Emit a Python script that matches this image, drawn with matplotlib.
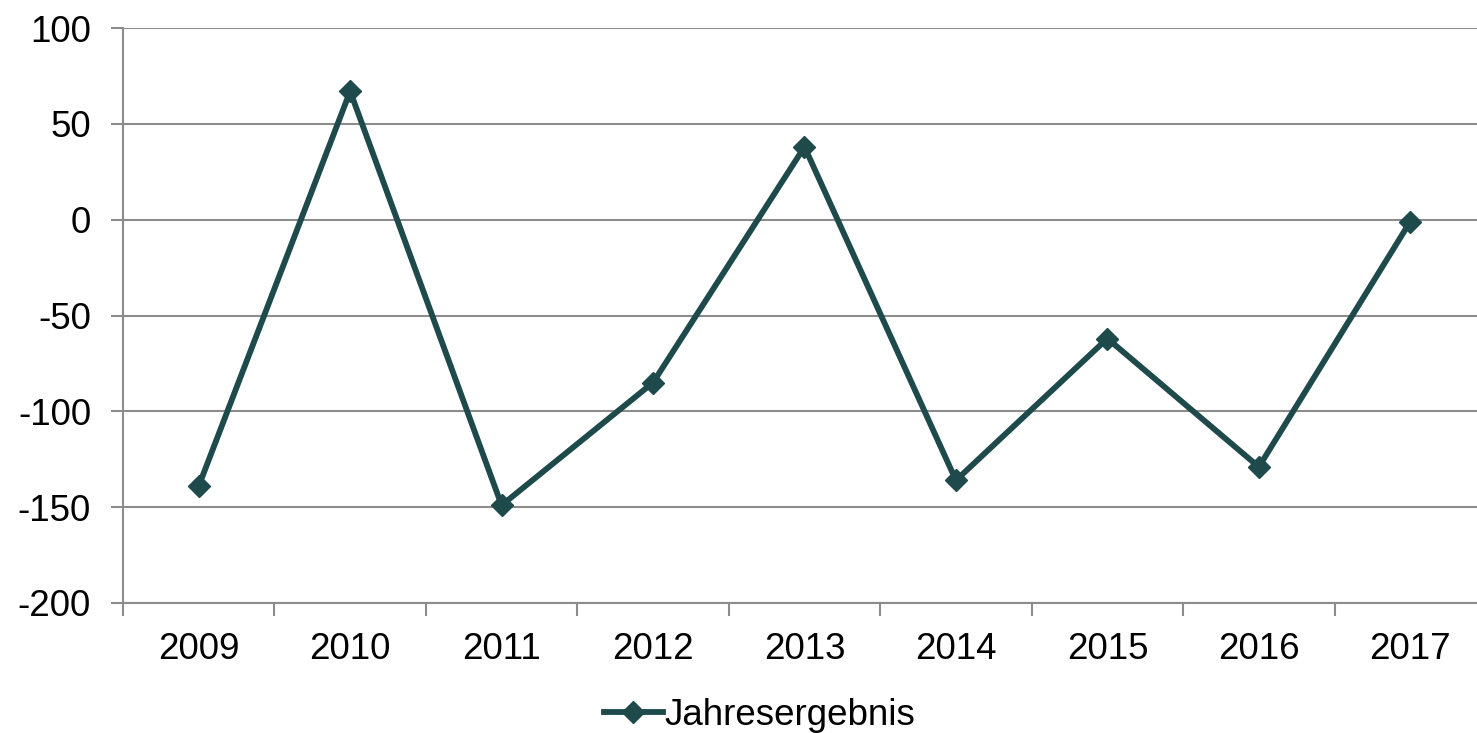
import numpy as np
import matplotlib
matplotlib.use("Agg")
import matplotlib.pyplot as plt

years = ["2009", "2010", "2011", "2012", "2013", "2014", "2015", "2016", "2017"]
jahresergebnis = [-139, 67, -149, -85, 38, -136, -62, -129, -1]
yticks = [-200, -150, -100, -50, 0, 50, 100]

line_color = "#1f4a4b"
grid_color = "#8c8c8c"

plt.rcParams['font.family'] = ['Liberation Sans', 'DejaVu Sans']

fig = plt.figure(figsize=(14.77, 7.33), dpi=100)
# axes slightly wider than the figure: the last category is cut at the right edge
ax = fig.add_axes([123 / 1477, 1 - 603 / 733, 1363 / 1477, 575 / 733])

x = np.arange(len(years))
ax.plot(x, jahresergebnis, color=line_color, lw=4.2, marker='D', markersize=11,
        label='Jahresergebnis', solid_joinstyle='miter', zorder=3)

ax.set_xlim(-0.5, len(years) - 0.5)
ax.set_ylim(-200, 100)
ax.set_yticks(yticks)
ax.set_yticklabels([str(v) for v in yticks], fontsize=26.5)
ax.yaxis.grid(True, color=grid_color, lw=1.5)
ax.set_axisbelow(True)

# category labels centred, tick marks between categories
ax.set_xticks(x)
ax.set_xticklabels(years, fontsize=26.5)
ax.tick_params(axis='x', length=0, pad=21)
ax.set_xticks(np.arange(len(years) + 1) - 0.5, minor=True)
ax.tick_params(axis='x', which='minor', length=9, width=1.5, color=grid_color)
ax.tick_params(axis='y', length=9, width=1.5, color=grid_color, pad=14)

for s in ['top', 'right']:
    ax.spines[s].set_visible(False)
for s in ['left', 'bottom']:
    ax.spines[s].set_color(grid_color)
    ax.spines[s].set_linewidth(1.5)

ax.legend(loc='lower center', bbox_to_anchor=(0.5 - 45 / 1363, -0.252), frameon=False,
          fontsize=26.5, handlelength=1.6, handletextpad=0.05, borderaxespad=0)

fig.savefig("out.png", dpi=100)
